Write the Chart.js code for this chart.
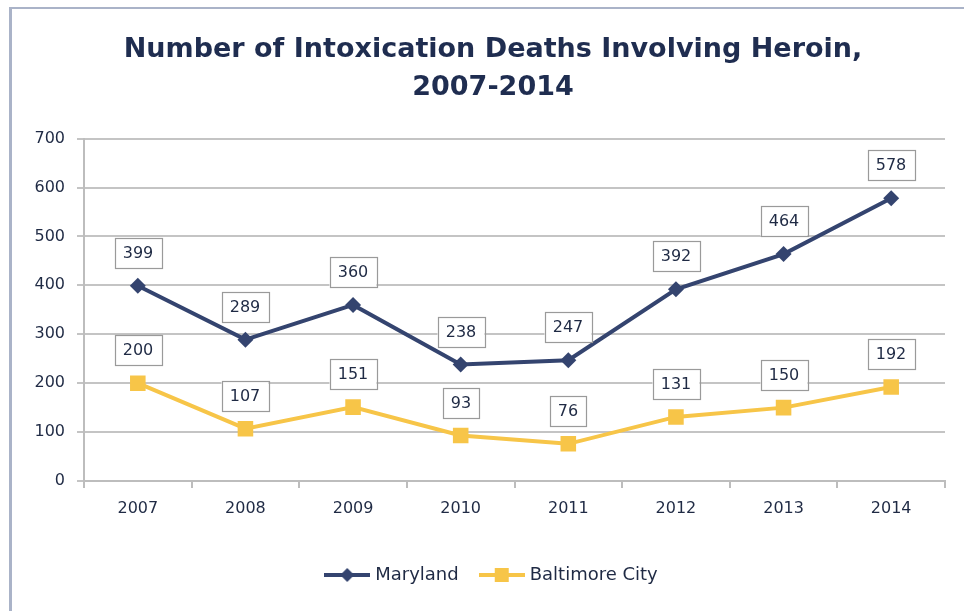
<!DOCTYPE html>
<html>
<head>
<meta charset="utf-8">
<script src="https://cdn.jsdelivr.net/npm/chart.js@4/dist/chart.umd.min.js"></script>
<style>
  html, body { margin: 0; padding: 0; background: #fff; overflow: hidden; }
  #wrap { position: relative; width: 964px; height: 611px; overflow: hidden; }
  #chartCanvas { position: absolute; left: 0; top: 0; }
  #frame { position: absolute; left: 9px; top: 7px; right: -5px; bottom: -5px;
           border-left: 3px solid #aab3c8; border-top: 2px solid #aab3c8; pointer-events: none; }
</style>
</head>
<body>
<div id="wrap">
  <canvas id="chartCanvas" width="986" height="611"></canvas>
  <div id="frame"></div>
</div>
<script>
const years = ["2007", "2008", "2009", "2010", "2011", "2012", "2013", "2014"];
const maryland = [399, 289, 360, 238, 247, 392, 464, 578];
const baltimore = [200, 107, 151, 93, 76, 131, 150, 192];
const yTicks = [0, 100, 200, 300, 400, 500, 600, 700];

const navy = "#34446f";
const gold = "#f7c548";
const textColor = "#1f2a44";
const fontName = "'DejaVu Sans', sans-serif";

// little line + marker pictures for the legend
function legendIcon(color, shape) {
  const c = document.createElement("canvas");
  c.width = 46;
  c.height = 18;
  const g = c.getContext("2d");
  g.strokeStyle = color;
  g.lineWidth = 4;
  g.beginPath();
  g.moveTo(0, 9);
  g.lineTo(46, 9);
  g.stroke();
  g.fillStyle = color;
  if (shape === "diamond") {
    g.beginPath();
    g.moveTo(23, 2);
    g.lineTo(30, 9);
    g.lineTo(23, 16);
    g.lineTo(16, 9);
    g.closePath();
    g.fill();
  } else {
    g.fillRect(16, 2, 14, 14);
  }
  return c;
}
const icons = [legendIcon(navy, "diamond"), legendIcon(gold, "square")];

// boxed value labels above each point
const valueBoxes = {
  id: "valueBoxes",
  afterDatasetsDraw(chart) {
    const ctx = chart.ctx;
    ctx.save();
    ctx.font = "16px " + fontName;
    ctx.textAlign = "center";
    ctx.textBaseline = "middle";
    chart.data.datasets.forEach((ds, i) => {
      const meta = chart.getDatasetMeta(i);
      meta.data.forEach((pt, j) => {
        const txt = String(ds.data[j]);
        const w = Math.round(ctx.measureText(txt).width + 16);
        const h = 30;
        const cx = Math.round(pt.x);
        const cy = Math.round(pt.y - 33);
        ctx.fillStyle = "#ffffff";
        ctx.fillRect(cx - w / 2, cy - h / 2, w, h);
        ctx.strokeStyle = "#9a9a9a";
        ctx.lineWidth = 1.2;
        ctx.strokeRect(Math.round(cx - w / 2) + 0.5, cy - h / 2 + 0.5, w, h);
        ctx.fillStyle = textColor;
        ctx.fillText(txt, cx, cy + 1);
      });
    });
    ctx.restore();
  }
};

const ctx = document.getElementById("chartCanvas").getContext("2d");
const chart = new Chart(ctx, {
  type: "line",
  data: {
    labels: years,
    datasets: [
      {
        label: "Maryland",
        data: maryland,
        borderColor: navy,
        backgroundColor: navy,
        borderWidth: 4,
        pointStyle: "rectRot",
        pointRadius: 8,
        pointBorderWidth: 0,
        tension: 0,
      },
      {
        label: "Baltimore City",
        data: baltimore,
        borderColor: gold,
        backgroundColor: gold,
        borderWidth: 4,
        pointStyle: "rect",
        pointRadius: 11,
        pointBorderWidth: 0,
        tension: 0,
      },
    ],
  },
  options: {
    animation: false,
    responsive: false,
    layout: { padding: { top: 0, left: 0, right: 0, bottom: 17 } },
    plugins: {
      title: {
        display: true,
        text: ["Number of Intoxication Deaths Involving Heroin,", "2007-2014"],
        color: "#1f2d50",
        font: { family: fontName, size: 27, weight: "bold", lineHeight: 1.4 },
        padding: { top: 31, bottom: 32 },
      },
      legend: {
        position: "bottom",
        labels: {
          usePointStyle: true,
          pointStyleWidth: 38,
          color: textColor,
          font: { family: fontName, size: 18 },
          padding: 24,
          generateLabels(c) {
            const items = Chart.defaults.plugins.legend.labels.generateLabels(c);
            items.forEach((it, k) => { it.pointStyle = icons[k]; });
            return items;
          },
        },
      },
      tooltip: { enabled: false },
    },
    scales: {
      x: {
        offset: true,
        grid: {
          offset: true,
          drawOnChartArea: false,
          drawTicks: true,
          tickLength: 7,
          color: "#bdbdbd",
          lineWidth: 2,
        },
        border: { color: "#bdbdbd", width: 2 },
        ticks: {
          color: textColor,
          font: { family: fontName, size: 16 },
          padding: 11,
        },
        afterFit(s) { s.height = 61; },
      },
      y: {
        min: 0,
        max: 700,
        afterBuildTicks(s) { s.ticks = yTicks.map((v) => ({ value: v })); },
        grid: { color: "#c4c4c4", lineWidth: 2, tickLength: 7 },
        border: { color: "#bdbdbd", width: 2 },
        ticks: {
          color: textColor,
          font: { family: fontName, size: 16 },
          padding: 12,
        },
        afterFit(s) { s.width = 84; },
      },
      pad: {
        position: "right",
        display: true,
        grid: { display: false },
        border: { display: false },
        ticks: { display: false },
        afterFit(s) { s.width = 41; },
      },
    },
  },
  plugins: [valueBoxes],
});
</script>
</body>
</html>
